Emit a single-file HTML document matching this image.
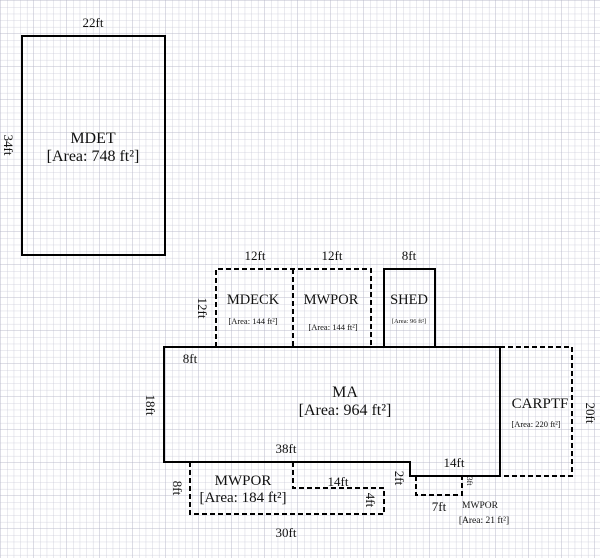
<!DOCTYPE html>
<html><head><style>
html,body{margin:0;padding:0;background:#fff}
svg{display:block}
text{font-family:"Liberation Serif",serif;fill:#111}
</style></head><body>
<svg width="600" height="558" viewBox="0 0 600 558" xmlns="http://www.w3.org/2000/svg">
<defs>
<pattern id="g" width="6.6" height="6.6" patternUnits="userSpaceOnUse" x="1" y="1">
<path d="M6.6 0V6.6H0" fill="none" stroke="#c9cad8" stroke-width="0.8"/>
</pattern>
<pattern id="G" width="33" height="33" patternUnits="userSpaceOnUse" x="1" y="1">
<path d="M33 0V33H0" fill="none" stroke="#b4b5c6" stroke-width="0.8"/>
</pattern>
</defs>
<rect width="600" height="558" fill="url(#g)"/>
<rect width="600" height="558" fill="url(#G)"/>
<g fill="none" stroke="#000" stroke-width="2">
<rect x="22" y="36" width="143" height="219"/>
<rect x="384" y="269" width="51" height="78"/>
<path d="M164 347H500V476H410V462H164Z"/>
</g>
<g fill="none" stroke="#000" stroke-width="2" stroke-dasharray="5,3">
<path d="M216 347V269H371V347M293 269V347"/>
<path d="M500 347H572V476H500"/>
<path d="M190 462V514H384V488H293V462"/>
<path d="M416 476V495H462V476"/>
</g>
<g font-size="13" text-anchor="middle">
<text x="93" y="27">22ft</text>
<text x="93" y="143" font-size="16">MDET</text>
<text x="93" y="161" font-size="16">[Area: 748 ft²]</text>
<text transform="translate(4,145) rotate(90)">34ft</text>
<text x="255" y="260">12ft</text>
<text x="332" y="260">12ft</text>
<text x="409" y="260">8ft</text>
<text transform="translate(198,308) rotate(90)">12ft</text>
<text x="253" y="304" font-size="14.5">MDECK</text>
<text x="331" y="304" font-size="14.5">MWPOR</text>
<text x="409" y="304" font-size="14.5">SHED</text>
<text x="190" y="363">8ft</text>
<text x="345" y="397" font-size="16">MA</text>
<text x="345" y="415" font-size="16">[Area: 964 ft²]</text>
<text transform="translate(146,405) rotate(90)">18ft</text>
<text x="286" y="453">38ft</text>
<text x="540" y="408" font-size="15">CARPTF</text>
<text transform="translate(586,413) rotate(90)">20ft</text>
<text x="454" y="467">14ft</text>
<text transform="translate(395,478) rotate(90)">2ft</text>
<text x="243" y="485" font-size="15">MWPOR</text>
<text x="243" y="502" font-size="15">[Area: 184 ft²]</text>
<text transform="translate(173,488) rotate(90)">8ft</text>
<text x="338" y="486">14ft</text>
<text transform="translate(366,500) rotate(90)">4ft</text>
<text x="286" y="537">30ft</text>
<text x="439" y="511">7ft</text>
</g>
<g font-size="8.5" text-anchor="middle">
<text x="253" y="324">[Area: 144 ft²]</text>
<text x="333" y="330">[Area: 144 ft²]</text>
<text x="409" y="323" font-size="6.5">[Area: 96 ft²]</text>
<text x="536" y="427">[Area: 220 ft²]</text>
<text x="480" y="508" font-size="9.5">MWPOR</text>
<text x="484" y="523" font-size="9.5">[Area: 21 ft²]</text>
<text transform="translate(467,481) rotate(90)" font-size="8">3ft</text>
</g>
</svg>
</body></html>
